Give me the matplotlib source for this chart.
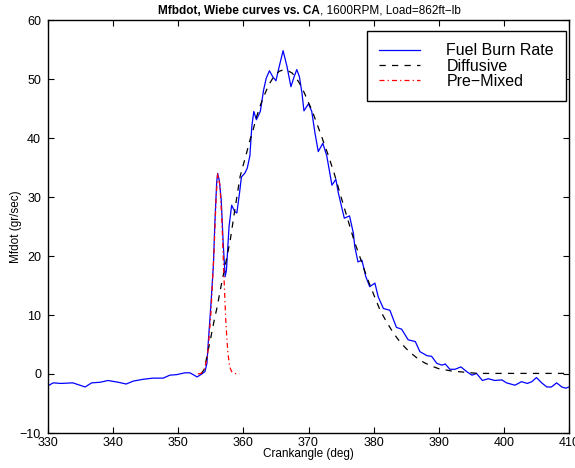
import matplotlib
matplotlib.use("Agg")
import matplotlib.pyplot as plt

plt.rcParams['font.family'] = ['Liberation Sans', 'DejaVu Sans']

# measured fuel burn rate (gr/sec) vs crank angle (deg)
ca_fuel = [330.0, 330.8, 332.0, 333.8, 334.9, 335.7, 336.7, 338.0, 339.2, 340.8,
           342.0, 343.1, 344.6, 346.1, 347.7, 348.7, 349.8, 351.0, 351.8, 352.9,
           353.6, 354.1, 354.4, 354.6, 355.0, 355.4, 355.6, 355.9, 356.05, 356.3,
           356.6, 356.9, 357.2, 357.4, 357.8, 358.2, 358.7, 359.0, 359.4, 359.7,
           360.2, 360.6, 361.0, 361.3, 361.6, 362.0, 362.6, 363.1, 363.5, 364.0,
           364.5, 365.0, 365.5, 366.1, 366.7, 367.3, 367.8, 368.2, 368.6, 369.0,
           369.3, 370.0, 370.5, 371.0, 371.5, 372.2, 372.8, 373.6, 374.2, 374.6,
           375.5, 376.3, 376.9, 377.1, 377.6, 378.2, 378.8, 379.4, 380.2, 380.7,
           381.5, 382.5, 383.5, 384.3, 385.3, 386.4, 387.1, 388.2, 388.9, 389.7,
           390.5, 391.0, 391.7, 392.5, 393.4, 394.3, 395.1, 395.8, 396.7, 397.6,
           398.6, 399.7, 400.4, 401.7, 402.7, 403.6, 404.3, 405.0, 405.8, 406.6,
           407.3, 408.1, 408.9, 409.5, 410.0]
mfb_fuel = [-2.0, -1.5, -1.6, -1.5, -1.9, -2.2, -1.5, -1.4, -1.1, -1.4,
            -1.7, -1.2, -0.9, -0.7, -0.7, -0.2, -0.1, 0.2, 0.2, -0.5,
            0.0, 0.4, 1.8, 5.2, 11.5, 18.5, 25.0, 32.5, 34.0, 32.8,
            29.5, 22.2, 16.5, 17.6, 25.0, 28.6, 27.5, 27.3, 30.6, 33.4,
            34.0, 34.9, 37.0, 42.0, 44.5, 43.1, 44.5, 48.1, 50.1, 51.4,
            50.4, 49.7, 52.1, 54.8, 52.1, 48.7, 50.4, 51.6, 50.4, 47.6,
            44.6, 45.8, 44.5, 40.8, 37.7, 39.1, 37.0, 32.0, 33.0, 30.6,
            26.4, 26.8, 23.8, 21.6, 19.0, 19.3, 16.5, 14.8, 15.4, 13.1,
            11.1, 10.8, 7.9, 7.6, 5.8, 5.5, 3.8, 3.1, 3.0, 1.8,
            1.5, 1.7, 0.8, 0.8, 1.2, 0.4, -0.2, 0.1, -1.1, -0.8,
            -1.1, -1.0, -1.5, -1.9, -1.3, -1.6, -1.3, -0.6, -1.5, -2.2,
            -2.2, -1.5, -2.2, -2.4, -2.2]

# diffusive Wiebe curve
ca_diff = [353.5, 354.0, 354.5, 355.0, 355.5, 356.0, 356.5, 357.0, 357.5, 358.0,
           358.5, 359.0, 359.5, 360.0, 360.5, 361.0, 361.5, 362.0, 362.5, 363.0,
           363.5, 364.0, 364.5, 365.0, 365.5, 366.0, 366.5, 367.0, 367.5, 368.0,
           368.5, 369.0, 369.5, 370.0, 370.5, 371.0, 371.5, 372.0, 372.5, 373.0,
           373.5, 374.0, 375.0, 376.0, 377.0, 378.0, 379.0, 380.0, 381.0, 382.0,
           383.0, 384.0, 385.0, 386.0, 387.0, 388.0, 389.0, 390.0, 391.0, 392.0,
           393.0, 394.0, 395.0, 396.0, 410.0]
mfb_diff = [0.0, 0.8, 3.5, 6.2, 9.0, 11.5, 14.5, 17.2, 20.0, 22.8,
            26.5, 30.0, 33.5, 35.5, 37.5, 39.6, 41.4, 43.5, 45.2, 46.7,
            48.0, 49.2, 50.1, 50.8, 51.3, 51.5, 51.5, 51.3, 51.0, 50.3,
            49.5, 48.5, 47.3, 46.0, 44.8, 43.3, 41.8, 40.3, 38.7, 37.2,
            35.5, 33.8, 30.0, 26.3, 22.6, 19.5, 16.3, 13.5, 10.8, 8.8,
            7.0, 5.5, 4.3, 3.3, 2.4, 1.8, 1.3, 0.9, 0.7, 0.5,
            0.4, 0.3, 0.2, 0.1, 0.1]

# pre-mixed Wiebe curve
ca_pre = [353.0, 353.5, 354.0, 354.5, 355.0, 355.5, 355.8, 356.05, 356.4, 356.7,
          357.0, 357.3, 357.6, 357.9, 358.2, 358.6, 359.4]
mfb_pre = [0.0, 0.1, 0.8, 3.0, 10.0, 21.0, 29.5, 34.0, 32.0, 26.0,
           17.0, 9.0, 3.8, 1.2, 0.4, 0.1, 0.0]

xticks = list(range(330, 411, 10))
yticks = list(range(-10, 61, 10))

fig = plt.figure(figsize=(5.75, 4.68), dpi=100)
ax = fig.add_axes([48/575, 35/468, 521/575, 413/468])

ax.plot(ca_fuel, mfb_fuel, color='blue', lw=0.9, label='Fuel Burn Rate')
ax.plot(ca_diff, mfb_diff, color='black', lw=0.9, dashes=(5, 5), label='Diffusive')
ax.plot(ca_pre, mfb_pre, color='red', lw=0.9, dashes=(4, 2.5, 1, 2.5), label='Pre\u2212Mixed')

ax.set_xlim(330, 410)
ax.set_ylim(-10, 60)
ax.set_xticks(xticks)
ax.set_yticks(yticks)
ax.tick_params(direction='in', length=4, width=0.8, top=True, right=True, labelsize=9)
ax.tick_params(axis='y', pad=5)
ax.tick_params(axis='x', pad=3)
for s in ax.spines.values():
    s.set_linewidth(1.0)

ax.set_xlabel('Crankangle (deg)', fontsize=8.5)
ax.xaxis.set_label_coords(0.5, -0.037)
ax.set_ylabel('Mfdot (gr/sec)', fontsize=8.5)
ax.yaxis.set_label_coords(-0.05, 0.5)

leg = ax.legend(loc='upper right', bbox_to_anchor=(0.994, 0.973), borderaxespad=0,
                fontsize=11.5, handlelength=2.55, handletextpad=1.65, borderpad=0.75,
                labelspacing=0.03, fancybox=False, framealpha=1, edgecolor='black')
leg.get_frame().set_linewidth(1.0)

# title: bold part + normal part, centred over the axes
ty = 1 - 13.5/468
t1 = fig.text(0, ty, 'Mfbdot, Wiebe curves vs. CA', fontsize=8.5, fontweight='bold',
              ha='left', va='baseline')
t2 = fig.text(0, ty, ', 1600RPM, Load=862ft\u2212lb', fontsize=8.5, ha='left', va='baseline')
fig.canvas.draw()
w1 = t1.get_window_extent().width
w2 = t2.get_window_extent().width
x0 = 309 - (w1 + w2) / 2
t1.set_x(x0 / 575)
t2.set_x((x0 + w1) / 575)

fig.savefig('out.png', dpi=100)
